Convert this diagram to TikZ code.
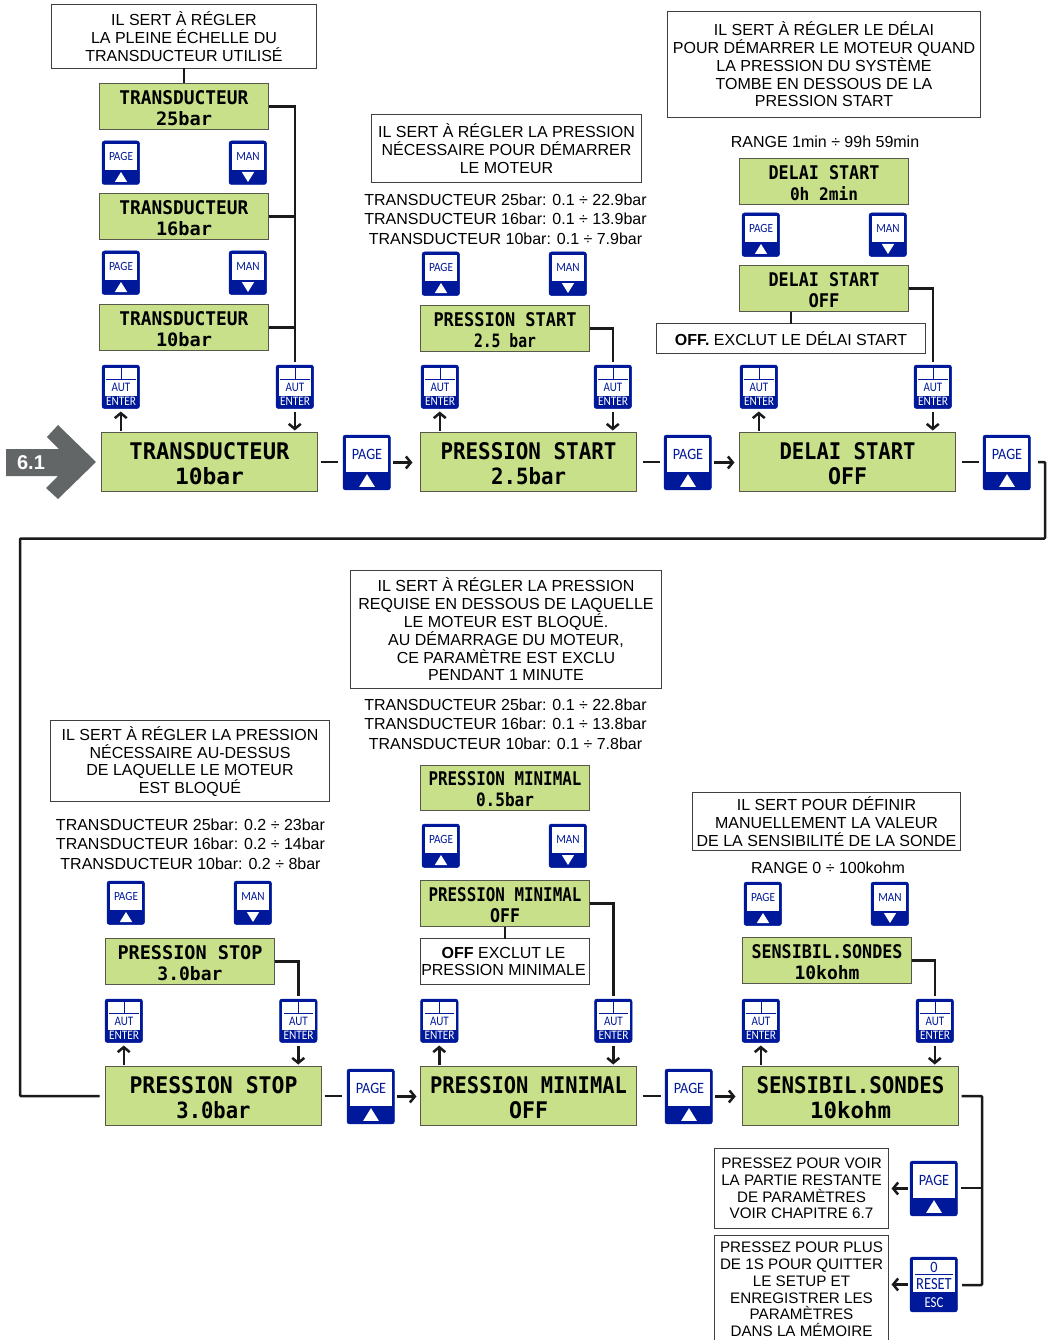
\documentclass[tikz,border=0pt]{standalone}
\usepackage{fontspec}
\usepackage{graphicx}
\setmainfont{Liberation Sans}
\newfontfamily\lcdfont{DejaVu Sans Mono}[BoldFont={DejaVu Sans Mono Bold}]
\newfontfamily\btnfont{Carlito}
\usetikzlibrary{arrows.meta,calc}
\definecolor{lcdgreen}{HTML}{C8E08A}
\definecolor{lcdedge}{HTML}{55584A}
\definecolor{navy}{HTML}{00189A}
\definecolor{line}{HTML}{1A1A1A}
\definecolor{tagGrey}{HTML}{636666}
\tikzset{
  x=1pt,y=-1pt,
  noteBox/.style={draw=black!75,line width=.8pt,fill=white,inner sep=0pt,outer sep=0pt,align=center,font=\fontsize{16}{17.8}\selectfont},
  noteSmall/.style={noteBox,font=\fontsize{15.2}{16.7}\selectfont},
  freeText/.style={inner sep=0pt,align=center,font=\fontsize{16}{19.6}\selectfont},
  lcdSmall/.style={draw=lcdedge,line width=1pt,fill=lcdgreen,inner sep=0pt,outer sep=0pt,align=center,font=\fontsize{10}{21}\lcdfont\bfseries\selectfont},
  lcdBig/.style={lcdSmall,font=\fontsize{10}{25}\lcdfont\bfseries\selectfont},
  btnBody/.style={fill=navy,draw=navy,line width=.5pt,rounded corners=2.5pt,inner sep=0pt,outer sep=0pt,anchor=north west,transform shape,minimum width=37.5,minimum height=43.5},
  btnWhite/.style={fill=white,draw=none},
  btnLabel/.style={inner sep=0pt,transform shape,text=navy},
  btnLabelW/.style={inner sep=0pt,transform shape,text=white},
  link/.style={draw=line,line width=2.5pt},
  linkto/.style={link,-{Straight Barb[length=5pt,width=12pt]}},
}
\newcommand\bt[3][.9]{\scalebox{#1}[1]{\btnfont\fontsize{#2}{#2}\selectfont #3}}
% name, x, y, scale
\newcommand\btnPage[4]{\begin{scope}[shift={(#2,#3)},scale=#4]
  \node[btnBody] (#1) at (0,0) {};
  \fill[btnWhite] (2.7,2.7) rectangle (35.3,29);
  \fill[white] (12.8,41) -- (25.2,41) -- (19,31) -- cycle;
  \node[btnLabel] at (19,15.5) {\bt{12.5}{PAGE}};
\end{scope}}
\newcommand\btnMan[4]{\begin{scope}[shift={(#2,#3)},scale=#4]
  \node[btnBody] (#1) at (0,0) {};
  \fill[btnWhite] (2.7,2.7) rectangle (35.3,29);
  \fill[white] (12.8,31) -- (25.2,31) -- (19,41) -- cycle;
  \node[btnLabel] at (19,15.5) {\bt{12.5}{MAN}};
\end{scope}}
\newcommand\btnAut[3]{\begin{scope}[shift={(#2,#3)}]
  \node[btnBody] (#1) at (0,0) {};
  \fill[btnWhite] (2.7,2.7) rectangle (35.3,31);
  \draw[navy,line width=.9pt] (4.3,14.3) -- (33.7,14.3) (19,2.7) -- (19,14.3);
  \node[btnLabel] at (19,22.6) {\bt[.85]{13}{AUT}};
  \node[btnLabelW] at (19,36.6) {\bt[.87]{13}{ENTER}};
\end{scope}}
\newcommand\btnReset[3]{\begin{scope}[shift={(#2,#3)},scale=1.263]
  \node[btnBody] (#1) at (0,0) {};
  \fill[btnWhite] (2.2,2.2) rectangle (35.8,28);
  \draw[navy,line width=1pt] (4,14.2) -- (34,14.2);
  \node[btnLabel] at (19,8.3) {\bt{12.5}{0}};
  \node[btnLabel] at (19,21.5) {\bt[.85]{13.5}{RESET}};
  \node[btnLabelW] at (19,35.8) {\bt[.85]{12}{ESC}};
\end{scope}}
% name, x1,y1,x2,y2, style, text
\newcommand\boxed[7]{\node[#6,minimum width={#4-#2-1},minimum height={#5-#3-1}] (#1) at ({(#2+#4)/2},{(#3+#5)/2}) {#7};}
\newcommand\ls[2]{\rule{0pt}{17pt}\resizebox{#1pt}{14pt}{#2}}
\newcommand\lb[2]{\rule{0pt}{21pt}\resizebox{#1pt}{17pt}{#2}}
\begin{document}
\begin{tikzpicture}
\useasboundingbox (0,0) rectangle (1051,1340);
% entry marker
\fill[tagGrey] (6,449) -- (59,449) -- (47,437) -- (58,425) -- (96,462) -- (58,499) -- (46,488) -- (58,476) -- (6,476) -- cycle;
\node[inner sep=0pt,text=white,font=\fontsize{20}{20}\selectfont\bfseries] (tag) at (31,463) {6.1};
% notes
\boxed{n1}{51}{4}{317}{69}{noteBox}{IL SERT À RÉGLER\\LA PLEINE ÉCHELLE DU\\TRANSDUCTEUR UTILISÉ}
\boxed{n2}{371}{114}{642}{183}{noteBox}{IL SERT À RÉGLER LA PRESSION\\NÉCESSAIRE POUR DÉMARRER\\LE MOTEUR}
\boxed{n3}{667}{11}{981}{118}{noteBox}{IL SERT À RÉGLER LE DÉLAI\\POUR DÉMARRER LE MOTEUR QUAND\\LA PRESSION DU SYSTÈME\\TOMBE EN DESSOUS DE LA\\PRESSION START}
\boxed{n4}{656}{323}{926}{354}{noteBox}{\textbf{OFF.} EXCLUT LE DÉLAI START}
\boxed{n5}{350}{570}{662}{689}{noteBox}{IL SERT À RÉGLER LA PRESSION\\REQUISE EN DESSOUS DE LAQUELLE\\LE MOTEUR EST BLOQUÉ.\\AU DÉMARRAGE DU MOTEUR,\\CE PARAMÈTRE EST EXCLU\\PENDANT 1 MINUTE}
\boxed{n6}{50}{720}{330}{802}{noteBox}{\rule{0pt}{15pt}IL SERT À RÉGLER LA PRESSION\\NÉCESSAIRE AU-DESSUS\\DE LAQUELLE LE MOTEUR\\EST BLOQUÉ}
\boxed{n7}{692}{792}{961}{851}{noteBox}{IL SERT POUR DÉFINIR\\MANUELLEMENT LA VALEUR\\DE LA SENSIBILITÉ DE LA SONDE}
\boxed{n8}{420}{938}{590}{985}{noteBox}{\textbf{OFF} EXCLUT LE\rule{3pt}{0pt}\\PRESSION MINIMALE\rule{3pt}{0pt}}
\boxed{n9}{714}{1148}{889}{1229}{noteSmall}{PRESSEZ POUR VOIR\\LA PARTIE RESTANTE\\DE PARAMÈTRES\\VOIR CHAPITRE 6.7}
\boxed{n10}{714}{1235}{889}{1344}{noteSmall}{PRESSEZ POUR PLUS\\DE 1S POUR QUITTER\\LE SETUP ET\\ENREGISTRER LES\\PARAMÈTRES\\DANS LA MÉMOIRE}
% free texts
\node[freeText] (f1) at (505.5,219) {TRANSDUCTEUR 25bar: 0.1 ÷ 22.9bar\\TRANSDUCTEUR 16bar: 0.1 ÷ 13.9bar\\TRANSDUCTEUR 10bar: 0.1 ÷ 7.9bar};
\node[freeText] (f2) at (825,142) {RANGE 1min ÷ 99h 59min};
\node[freeText] (f3) at (505.5,724) {TRANSDUCTEUR 25bar: 0.1 ÷ 22.8bar\\TRANSDUCTEUR 16bar: 0.1 ÷ 13.8bar\\TRANSDUCTEUR 10bar: 0.1 ÷ 7.8bar};
\node[freeText] (f4) at (190.5,844) {TRANSDUCTEUR 25bar: 0.2 ÷ 23bar\\TRANSDUCTEUR 16bar: 0.2 ÷ 14bar\\TRANSDUCTEUR 10bar: 0.2 ÷ 8bar};
\node[freeText] (f5) at (828,868) {RANGE 0 ÷ 100kohm};
% small displays
\boxed{t25}{99}{83}{269}{130}{lcdSmall}{\ls{129}{TRANSDUCTEUR}\\\ls{56}{25bar}}
\boxed{t16}{99}{193}{269}{240}{lcdSmall}{\ls{129}{TRANSDUCTEUR}\\\ls{56}{16bar}}
\boxed{t10}{99}{304}{269}{351}{lcdSmall}{\ls{129}{TRANSDUCTEUR}\\\ls{56}{10bar}}
\boxed{ps}{420}{305}{590}{352}{lcdSmall}{\ls{143}{PRESSION START}\\\ls{62}{2.5 bar}}
\boxed{dsa}{739}{158}{909}{205}{lcdSmall}{\ls{111}{DELAI START}\\\ls{68}{0h 2min}}
\boxed{dsb}{739}{265}{909}{312}{lcdSmall}{\ls{111}{DELAI START}\\\ls{31}{OFF}}
\boxed{pma}{420}{765}{590}{811}{lcdSmall}{\ls{153}{PRESSION MINIMAL}\\\ls{58}{0.5bar}}
\boxed{pmb}{420}{880}{590}{927}{lcdSmall}{\ls{153}{PRESSION MINIMAL}\\\ls{30}{OFF}}
\boxed{pst}{105}{938}{275}{985}{lcdSmall}{\ls{145}{PRESSION STOP}\\\ls{65}{3.0bar}}
\boxed{sen}{742}{937}{912}{984}{lcdSmall}{\ls{151}{SENSIBIL.SONDES}\\\ls{65}{10kohm}}
% big displays
\boxed{L1}{101}{432}{318}{492}{lcdBig}{\lb{160}{TRANSDUCTEUR}\\\lb{69}{10bar}}
\boxed{L2}{420}{432}{637}{492}{lcdBig}{\lb{176}{PRESSION START}\\\lb{75}{2.5bar}}
\boxed{L3}{739}{432}{956}{492}{lcdBig}{\lb{136}{DELAI START}\\\lb{39}{OFF}}
\boxed{L4}{105}{1066}{322}{1126}{lcdBig}{\lb{168}{PRESSION STOP}\\\lb{74}{3.0bar}}
\boxed{L5}{420}{1066}{637}{1126}{lcdBig}{\lb{197}{PRESSION MINIMAL}\\\lb{39}{OFF}}
\boxed{L6}{742}{1066}{959}{1126}{lcdBig}{\lb{188}{SENSIBIL.SONDES}\\\lb{81}{10kohm}}
% small buttons
\btnPage{pa}{102}{141}{1}\btnMan{ma}{229}{141}{1}
\btnPage{pb}{102}{251}{1}\btnMan{mb}{229}{251}{1}
\btnPage{pc}{422}{252}{1}\btnMan{mc}{549}{252}{1}
\btnPage{pd}{742}{213}{1}\btnMan{md}{869}{213}{1}
\btnPage{pe}{422}{824}{1}\btnMan{me}{549}{824}{1}
\btnPage{pf}{107}{881}{1}\btnMan{mf}{234}{881}{1}
\btnPage{pg}{744}{882}{1}\btnMan{mg}{871}{882}{1}
% aut/enter buttons
\btnAut{a1}{102}{365}\btnAut{b1}{276}{365}
\btnAut{a2}{421}{365}\btnAut{b2}{594}{365}
\btnAut{a3}{740}{365}\btnAut{b3}{914}{365}
\btnAut{a4}{105}{999}\btnAut{b4}{279.5}{999}
\btnAut{a5}{420.5}{999}\btnAut{b5}{594.5}{999}
\btnAut{a6}{742}{999}\btnAut{b6}{916}{999}
% big page buttons
\btnPage{P1}{343}{435}{1.263}
\btnPage{P2}{664}{435}{1.263}
\btnPage{P3}{983}{435}{1.263}
\btnPage{P4}{347}{1069}{1.263}
\btnPage{P5}{665}{1069}{1.263}
\btnPage{P6}{910}{1161}{1.263}
\btnReset{R}{910}{1257}
% connectors
\draw[link] (n1) -- (t25);
\draw[link,shorten >=3pt] (t25.east) -| (b1.north);
\draw[link] (t16.east) -- (t16.east -| b1.north);
\draw[link] (t10.east) -- (t10.east -| b1.north);
\draw[link,shorten >=3pt] (ps.east) -| (b2.north);
\draw[link,shorten >=3pt] (dsb.east) -| (b3.north);
\draw[link,line width=2pt] (dsb.south -| n4.north) -- (n4.north);
\draw[link,shorten >=3pt] (pmb.east) -| (b5.north);
\draw[link,line width=2pt] (pmb) -- (n8);
\draw[link,shorten >=3pt] (pst.east) -| (b4.north);
\draw[link,shorten >=3pt] (sen.east) -| (b6.north);
\foreach \l/\a/\b in {L1/a1/b1,L2/a2/b2,L3/a3/b3,L4/a4/b4,L5/a5/b5,L6/a6/b6}{
  \draw[linkto,shorten <=2pt,shorten >=3pt] (\l.north -| \a.south) -- (\a.south);
  \draw[linkto,shorten <=3pt,shorten >=2pt] (\b.south) -- (\l.north -| \b.south);
}
\foreach \l/\p/\m/\s/\t/\u in {L1/P1/L2/3/5/8,L2/P2/L3/6/4/5,L4/P4/L5/3/5/4,L5/P5/L6/6/4/7}{
  \draw[link,shorten <=\s pt,shorten >=\t pt] (\l.east) -- (\l.east -| \p.west);
  \draw[linkto,shorten <=3pt,shorten >=\u pt] (\p.east) -- (\p.east -| \m.west);
}
\draw[link,shorten <=6pt,shorten >=4pt] (L3.east) -- (L3.east -| P3.west);
\coordinate (c1) at (1045,462);
\coordinate (c2) at (1045,538.5);
\coordinate (c3) at (20,538.5);
\coordinate (c4) at (20,1096);
\coordinate (c5) at (1038,462);
\draw[link,rounded corners=1pt,shorten >=6pt] (c5) -- (c1) -- (c2) -- (c3) -- (c4) -- (c4 -| L4.west);
\coordinate (r1) at (982,1096);
\coordinate (r2) at (982,1285);
\coordinate (r3) at (982,1188);
\coordinate (r4) at (962,1285);
\coordinate (r5) at (961,1188);
\draw[link,rounded corners=1pt,shorten <=3pt] (L6.east) -- (r1) -- (r2) -- (r4);
\draw[link] (r3) -- (r5);
\draw[linkto,shorten <=2pt,shorten >=3pt] (P6.west) -- (P6.west -| n9.east);
\draw[linkto,shorten <=2pt,shorten >=3pt] (R.west) -- (R.west -| n10.east);
\end{tikzpicture}
\end{document}
